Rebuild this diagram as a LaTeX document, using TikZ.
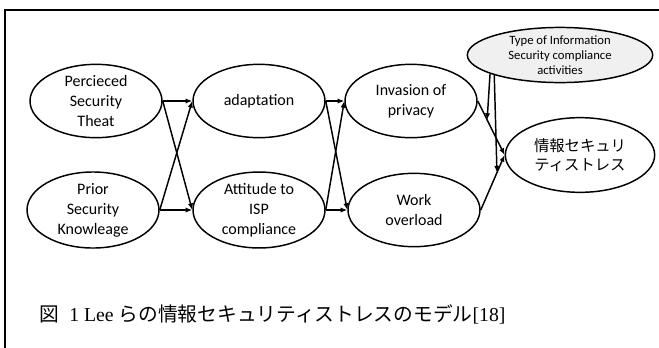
\documentclass[tikz,border=0pt]{standalone}
\usepackage{fontspec}
\setmainfont{Carlito}
\newfontfamily\jpfont{Noto Sans CJK JP}
\newfontfamily\capfont{Liberation Serif}
\usetikzlibrary{shapes.geometric,arrows.meta,calc}

\tikzset{
    factor/.style={ellipse, draw, line width=1.1pt, inner sep=0pt, align=center,
        minimum width=99pt, minimum height=55pt, font=\fontsize{12}{15}\selectfont},
    link/.style={line width=1.1pt, -{Latex[length=5pt,width=4pt]}}
}

\begin{document}
\begin{tikzpicture}[x=0.75pt, y=-0.75pt]
        \useasboundingbox (0,0) rectangle (659,347);
        \draw[line width=1.5pt] (5,360) -- (5,9.5) -- (670,9.5);

        \node[factor] (perceived) at (96,101) {Percieced\\Security\\Theat};
        \node[factor] (prior) at (93,210) {Prior\\Security\\Knowleage};
        \node[factor] (adapt) at (259,101) {adaptation};
        \node[factor] (attitude) at (259,210) {Attitude to\\ISP\\compliance};
        \node[factor] (privacy) at (411,101) {Invasion of\\privacy};
        \node[factor] (overload) at (414,210) {Work\\overload};
        \node[factor, fill=gray!12, minimum width=139pt, minimum height=39pt,
            font=\fontsize{9.5}{11.3}\selectfont] (compliance) at (560,55)
            {Type of Information\\Security compliance\\activities};
        \node[factor, minimum width=112pt, minimum height=56pt,
            font=\jpfont\fontsize{11.5}{14.5}\selectfont] (stress) at (580,155)
            {情報セキュリ\\ティストレス};

        \node[anchor=west, font=\capfont\fontsize{14.8}{17}\selectfont] (caption) at (35,314)
            {{\jpfont 図}\ \ 1 Lee {\jpfont らの情報セキュリティストレスのモデル}[18]};

        \foreach \a in {perceived, prior}
            \foreach \b in {adapt, attitude}
                \draw[link] (\a.east) -- (\b.west);
        \foreach \a in {adapt, attitude}
            \foreach \b in {privacy, overload}
                \draw[link] (\a.east) -- (\b.west);
        \draw[link] (privacy.east) -- (stress.west);
        \draw[link] (overload.east) -- (stress.west);

        \coordinate (hitA) at ($(privacy.east)!0.35!(stress.west)$);
        \coordinate (hitB) at ($(overload.east)!0.68!(stress.west)$);
        \draw[link] (compliance.195) -- (hitA);
        \draw[link] (compliance.197) -- (hitB);
    \end{tikzpicture}
\end{document}
